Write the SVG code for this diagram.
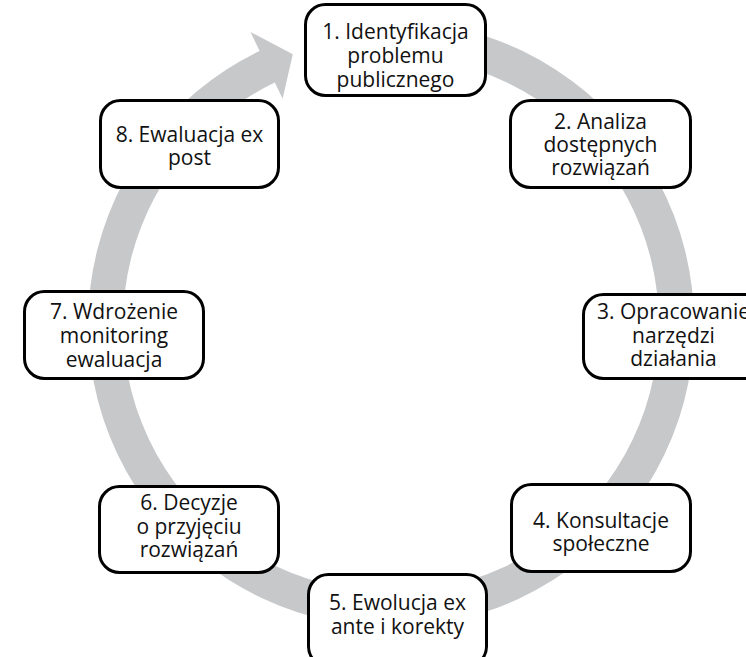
<svg xmlns="http://www.w3.org/2000/svg" width="746" height="657" viewBox="0 0 746 657">
<style>
.box{fill:#fff;stroke:#000;stroke-width:3}
.t{font-family:"Open Sans","Noto Sans",sans-serif;font-size:21px;fill:#111;text-anchor:middle}
</style>
<rect width="746" height="657" fill="#fff"/>
<g id="connectors">
<path id="cycle-arrow" fill="#c7c8ca" d="M338.4,25.6 A303,303 0 1 1 259.6,51.0 L250.5,32 L292.8,54.3 L282.6,98.7 L274.8,82.5 A268,268 0 1 0 344.5,60.1 Z"/>
</g>
<g id="n1"><rect class="box" x="305.5" y="4.5" width="180" height="91" rx="20"/>
<text class="t" x="395.5" y="39">1. Identyfikacja</text><text class="t" x="395.5" y="63">problemu</text><text class="t" x="395.5" y="87">publicznego</text></g>
<g id="n2"><rect class="box" x="510.5" y="100.5" width="180" height="87" rx="20"/>
<text class="t" x="600.5" y="129">2. Analiza</text><text class="t" x="600.5" y="152">dostępnych</text><text class="t" x="600.5" y="175">rozwiązań</text></g>
<g id="n3"><rect class="box" x="583.5" y="294.5" width="181" height="84" rx="20"/>
<text class="t" x="673.5" y="319">3. Opracowanie</text><text class="t" x="673.5" y="343">narzędzi</text><text class="t" x="673.5" y="366">działania</text></g>
<g id="n4"><rect class="box" x="511.5" y="484.5" width="179" height="87" rx="20"/>
<text class="t" x="601" y="528">4. Konsultacje</text><text class="t" x="601" y="551">społeczne</text></g>
<g id="n5"><rect class="box" x="308.5" y="574.5" width="178" height="92" rx="20"/>
<text class="t" x="397.5" y="610">5. Ewolucja ex</text><text class="t" x="397.5" y="634">ante i korekty</text></g>
<g id="n6"><rect class="box" x="99.5" y="486.5" width="179" height="86" rx="20"/>
<text class="t" x="189" y="510">6. Decyzje</text><text class="t" x="189" y="534">o przyjęciu</text><text class="t" x="189" y="557">rozwiązań</text></g>
<g id="n7"><rect class="box" x="24.5" y="291.5" width="179" height="87" rx="20"/>
<text class="t" x="114" y="319">7. Wdrożenie</text><text class="t" x="114" y="343">monitoring</text><text class="t" x="114" y="367">ewaluacja</text></g>
<g id="n8"><rect class="box" x="100.5" y="100.5" width="178" height="87" rx="20"/>
<text class="t" x="189.5" y="142">8. Ewaluacja ex</text><text class="t" x="189.5" y="165">post</text></g>
</svg>
